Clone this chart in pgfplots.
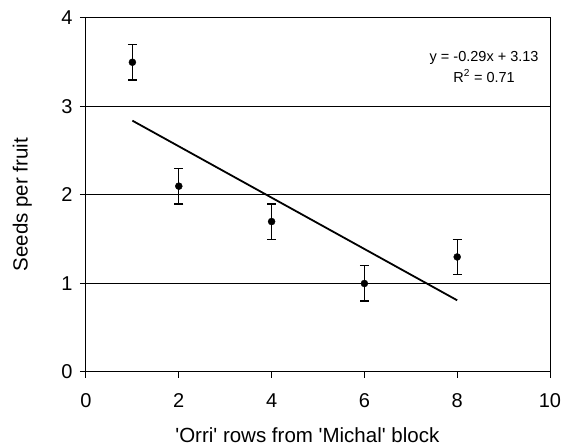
\documentclass[border=0pt]{standalone}
\usepackage{fontspec}
\setmainfont{Liberation Sans}
\usepackage{pgfplots}
\pgfplotsset{compat=1.18}
\begin{document}
\begin{tikzpicture}
\useasboundingbox (-86pt,-74pt) rectangle (485pt,372pt);
\begin{axis}[
  anchor=south west, at={(0,0)},
  scale only axis, width=464pt, height=354pt,
  xmin=0, xmax=10, ymin=0, ymax=4,
  xtick={0,2,4,6,8,10}, ytick={0,1,2,3,4},
  xticklabels={0,2,4,6,8,10}, yticklabels={0,1,2,3,4},
  tick align=outside, major tick length=6pt,
  xtick pos=bottom, ytick pos=left,
  ymajorgrids, grid style={black, line width=1pt},
  axis line style={line width=1pt},
  tick style={black, line width=1pt},
  xticklabel style={font=\fontsize{20}{23}\selectfont, anchor=base, yshift=-30pt},
  yticklabel style={font=\fontsize{20}{23}\selectfont, anchor=east, xshift=-4pt},
  label style={font=\fontsize{20.5}{24}\selectfont},
  xlabel={\textquotesingle Orri\textquotesingle{} rows from \textquotesingle Michal\textquotesingle{} block},
  ylabel={Seeds per fruit},
  xlabel style={at={(axis description cs:0.477,-0.198)}, anchor=base},
  ylabel style={at={(axis description cs:-0.126,0.473)}, anchor=base},
  clip=false,
]
\addplot[black, line width=1.8pt, no marks] coordinates {(1,2.84) (8,0.81)};
\addplot[black, only marks, mark=*, mark size=3.5pt,
  error bars/.cd, y dir=both, y explicit,
  error bar style={line width=1.4pt},
  error mark options={rotate=90, mark size=4.5pt, line width=1.4pt}]
  coordinates {
  (1,3.5) +- (0,0.2)
  (2,2.1) +- (0,0.2)
  (4,1.7) +- (0,0.2)
  (6,1.0) +- (0,0.2)
  (8,1.3) +- (0,0.2)
  };
\node[font=\fontsize{14.5}{21}\selectfont, align=center, anchor=center] at (axis cs:8.58,3.45)
  {y = -0.29x + 3.13\\ R\textsuperscript{2} = 0.71};
\end{axis}
\end{tikzpicture}
\end{document}
